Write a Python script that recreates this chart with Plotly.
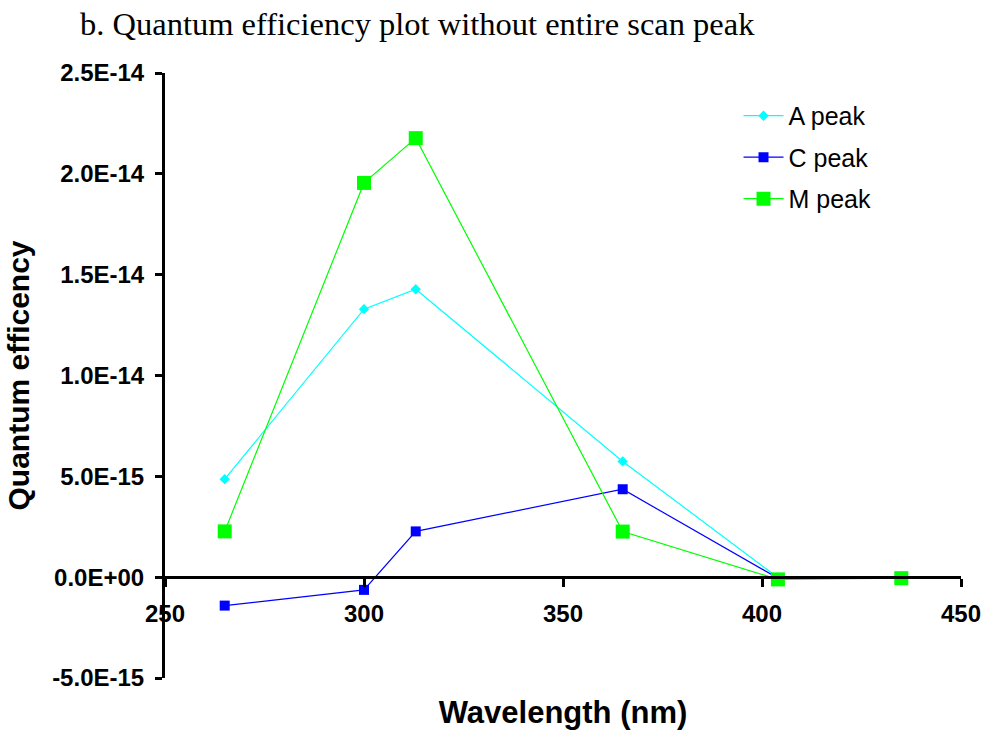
import plotly.graph_objects as go

# ---- data ----
wavelength = [265, 300, 313, 365, 404, 435]
a_peak = [4.86e-15, 13.29e-15, 14.28e-15, 5.74e-15, -0.02e-15, 0.0]
c_peak = [-1.41e-15, -0.63e-15, 2.27e-15, 4.36e-15, -0.05e-15, 0.0]
m_peak = [2.27e-15, 19.55e-15, 21.77e-15, 2.26e-15, -0.11e-15, -0.05e-15]

series_names = ["A peak", "C peak", "M peak"]
y_tickvals = [-5e-15, 0, 5e-15, 1e-14, 1.5e-14, 2e-14, 2.5e-14]
y_ticktext = ["-5.0E-15", "0.0E+00", "5.0E-15", "1.0E-14", "1.5E-14", "2.0E-14", "2.5E-14"]
x_tickvals = [250, 300, 350, 400, 450]

title_text = "b. Quantum efficiency plot without entire scan peak"
x_title = "Wavelength (nm)"
y_title = "Quantum efficency"

fig = go.Figure()
fig.add_trace(go.Scatter(
    x=wavelength, y=a_peak, name=series_names[0], mode="lines+markers",
    legendgroup="a",
    line=dict(color="#00FFFF", width=1.2),
    marker=dict(symbol="diamond", size=8, color="#00FFFF", line=dict(width=0)),
))
fig.add_trace(go.Scatter(
    x=wavelength, y=c_peak, name=series_names[1], mode="lines+markers",
    legendgroup="c",
    line=dict(color="#0000FF", width=1.2),
    marker=dict(symbol="square", size=10, color="#0000FF", line=dict(width=0)),
))
fig.add_trace(go.Scatter(
    x=wavelength, y=m_peak, name=series_names[2], mode="lines+markers",
    legendgroup="m",
    line=dict(color="#00FF00", width=1.2),
    marker=dict(symbol="square", size=14, color="#00FF00", line=dict(width=0)),
))

ymin, ymax = -5e-15, 2.5e-14
zero_pos = (0 - ymin) / (ymax - ymin)

fig.update_layout(
    width=988, height=730,
    paper_bgcolor="white", plot_bgcolor="white",
    margin=dict(l=165, r=27, t=73, b=52, autoexpand=False),
    title=dict(
        text=title_text, xref="container", yref="container",
        x=80 / 988, xanchor="left", y=1 - 24 / 730, yanchor="middle",
        font=dict(family="Liberation Serif", size=32.5, color="black"),
    ),
    font=dict(family="Liberation Sans", color="black"),
    legend=dict(
        x=0.7205, y=0.967, xanchor="left", yanchor="top",
        font=dict(family="Liberation Sans", size=25, color="black"),
        bgcolor="rgba(0,0,0,0)", tracegroupgap=6,
        itemwidth=40,
    ),
    showlegend=True,
)

fig.update_xaxes(
    range=[250, 450], tickvals=x_tickvals,
    anchor="free", position=zero_pos,
    showline=True, linecolor="black", linewidth=3,
    ticks="outside", ticklen=8, tickwidth=3, tickcolor="black",
    showgrid=False, zeroline=False,
    ticklabelstandoff=6,
    tickfont=dict(family="Liberation Sans", size=24, color="black", weight="bold"),
    title=dict(text="<b>" + x_title + "</b>", standoff=76,
               font=dict(family="Liberation Sans", size=31, color="black")),
    automargin=False,
)
fig.update_yaxes(
    range=[ymin, ymax], tickvals=y_tickvals, ticktext=y_ticktext,
    showline=True, linecolor="black", linewidth=3,
    ticks="outside", ticklen=7, tickwidth=3, tickcolor="black",
    showgrid=False, zeroline=False,
    ticklabelstandoff=6,
    tickfont=dict(family="Liberation Sans", size=24, color="black", weight="bold"),
    title=dict(text="<b>" + y_title + "</b>", standoff=14,
               font=dict(family="Liberation Sans", size=30, color="black")),
    automargin=False,
)

fig.write_html("out.html")
